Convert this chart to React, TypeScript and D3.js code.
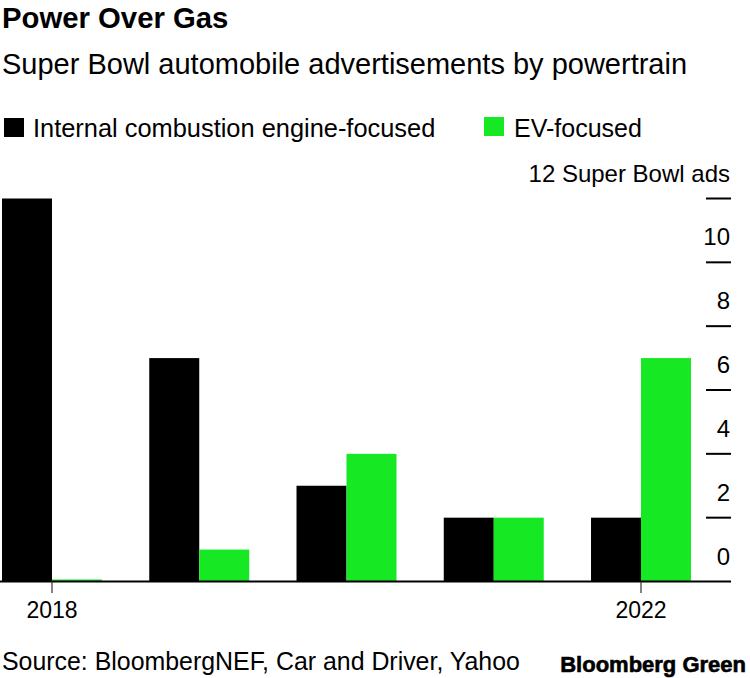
import React from "react";
import * as d3 from "d3";

const years = ["2018", "2019", "2020", "2021", "2022"];
const iceValues = [12, 7, 3, 2, 2];
const evValues = [0, 1, 4, 2, 7];
const seriesNames = ["Internal combustion engine-focused", "EV-focused"];
const yTicks = [0, 2, 4, 6, 8, 10, 12];
const xTickLabels = ["2018", "2022"];

const W = 750;
const H = 678;
const FONT = "'Liberation Sans', Arial, Helvetica, sans-serif";
const BLACK = "#000000";
const GREEN = "#16e923";

export default function App() {
  const x = d3.scaleBand<string>().domain(years).range([2, 691]).paddingInner(0.321).paddingOuter(0);
  const xs = d3.scaleBand<string>().domain(["ice", "ev"]).range([0, x.bandwidth()]);
  const y = d3.scaleLinear().domain([0, 12]).range([581.5, 198.5]);

  const rows = years.map((yr, i) => ({ yr, ice: iceValues[i], ev: evValues[i] }));

  return (
    <svg width={W} height={H} style={{ position: "absolute", left: 0, top: 0, background: "#fff" }} fontFamily={FONT}>
      <text x={2} y={28} fontSize={29.3} fontWeight="bold" fill="#000">Power Over Gas</text>
      <text x={2} y={74} fontSize={29} fill="#000">Super Bowl automobile advertisements by powertrain</text>

      {/* legend */}
      <rect x={4} y={118} width={20} height={19} fill={BLACK} />
      <text x={33} y={137} fontSize={25.4} fill="#000">{seriesNames[0]}</text>
      <rect x={484} y={117} width={20} height={19} fill={GREEN} />
      <text x={514} y={137} fontSize={25} fill="#000">{seriesNames[1]}</text>

      {/* y axis */}
      {yTicks.map((t) => (
        <g key={t}>
          {t > 0 && <line x1={706} x2={731} y1={y(t)} y2={y(t)} stroke="#000" strokeWidth={2} />}
          <text x={730} y={y(t) - 17} fontSize={24} textAnchor="end" fill="#000">
            {t === 12 ? "12 Super Bowl ads" : String(t)}
          </text>
        </g>
      ))}

      {/* bars */}
      {rows.map((r) => (
        <g key={r.yr} transform={`translate(${x(r.yr)},0)`}>
          <rect x={xs("ice")} y={y(r.ice)} width={xs.bandwidth()} height={y(0) - y(r.ice)} fill={BLACK} />
          <rect
            x={xs("ev")}
            y={Math.min(y(r.ev), y(0) - 2)}
            width={xs.bandwidth()}
            height={Math.max(y(0) - y(r.ev), 2)}
            fill={GREEN}
          />
        </g>
      ))}

      {/* baseline */}
      <line x1={0} x2={731} y1={y(0)} y2={y(0)} stroke="#000" strokeWidth={2} />

      {/* x ticks */}
      {xTickLabels.map((yr) => {
        const cx = (x(yr) as number) + x.bandwidth() / 2;
        return (
          <g key={yr}>
            <line x1={cx} x2={cx} y1={y(0)} y2={593} stroke="#333" strokeWidth={1.2} />
            <text x={cx} y={618} fontSize={23} textAnchor="middle" fill="#000">{yr}</text>
          </g>
        );
      })}

      <text x={2} y={670} fontSize={24.9} fill="#000">Source: BloombergNEF, Car and Driver, Yahoo</text>
      <text x={746} y={672} fontSize={22} fontWeight="bold" textAnchor="end" fill="#000" stroke="#000" strokeWidth={0.6}>Bloomberg Green</text>
    </svg>
  );
}
